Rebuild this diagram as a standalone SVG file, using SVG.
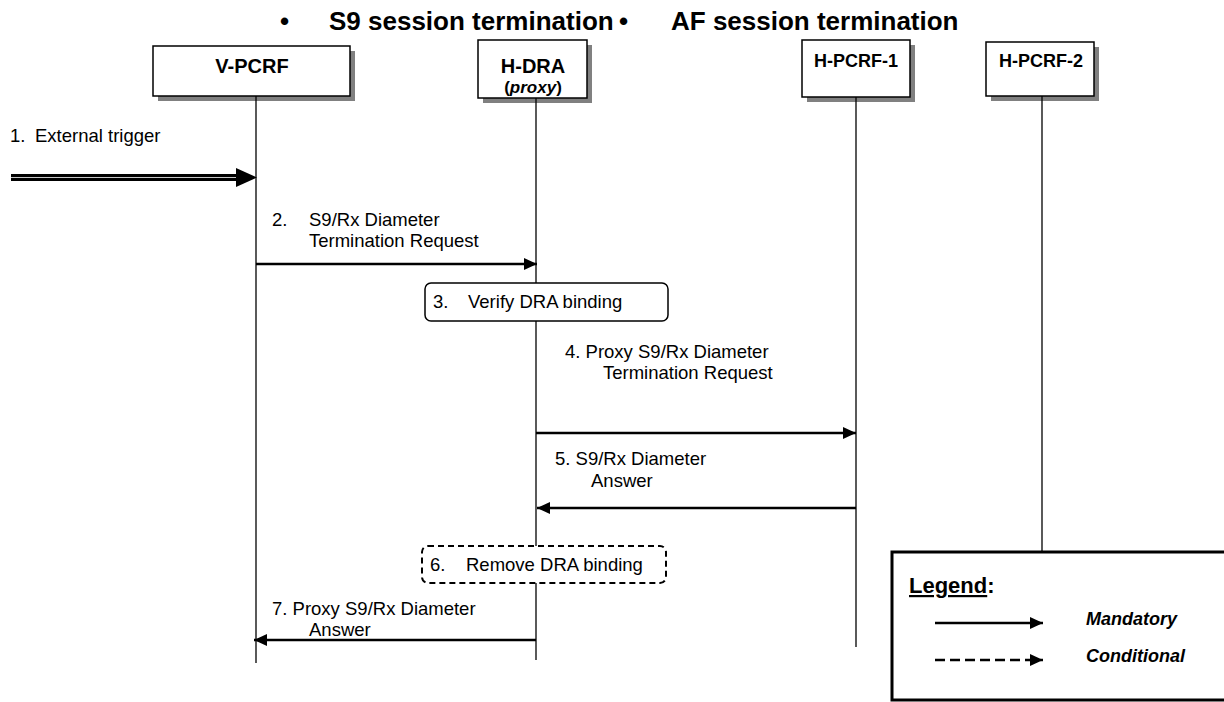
<svg xmlns="http://www.w3.org/2000/svg" width="1224" height="702" viewBox="0 0 1224 702">
<defs>
<style>
text{font-family:"Liberation Sans",Arial,sans-serif;fill:#000}
.title{font-size:26px;font-weight:bold}
.lbl{font-weight:bold}
.msg{font-size:18.5px}
.box{fill:#fff;stroke:#000;stroke-width:1.5}
.shadow{fill:#808080}
.life{stroke:#000;stroke-width:1.3;fill:none}
.arr{stroke:#000;stroke-width:2.5;fill:none}
.leg{font-size:18px;font-weight:bold;font-style:italic}
</style>
<marker id="ah" markerWidth="13" markerHeight="12" refX="13" refY="6" orient="auto" markerUnits="userSpaceOnUse">
<path d="M0,0 L13,6 L0,12 Z" fill="#000"/>
</marker>
</defs>
<rect width="1224" height="702" fill="#fff"/>
<g id="title">
<text class="title" x="280" y="30">•</text>
<text class="title" x="329" y="30">S9 session termination</text>
<text class="title" x="619" y="30">•</text>
<text class="title" x="671" y="30">AF session termination</text>
</g>
<g id="v-pcrf">
<rect class="shadow" x="158" y="51" width="197" height="50"/>
<rect class="box" x="153" y="46" width="197" height="50"/>
<text class="lbl" x="252" y="73" font-size="20" text-anchor="middle">V-PCRF</text>
<line class="life" x1="256" y1="96" x2="256" y2="663"/>
</g>
<g id="h-dra">
<rect class="shadow" x="483" y="45" width="109" height="58"/>
<rect class="box" x="478" y="40" width="109" height="58"/>
<text class="lbl" x="533" y="73" font-size="20" text-anchor="middle">H-DRA</text>
<text class="lbl" x="533" y="93" font-size="17" text-anchor="middle">(<tspan font-style="italic">proxy</tspan>)</text>
<line class="life" x1="536" y1="98" x2="536" y2="660"/>
</g>
<g id="h-pcrf-1">
<rect class="shadow" x="807" y="45" width="108" height="57"/>
<rect class="box" x="802" y="40" width="108" height="57"/>
<text class="lbl" x="856" y="67" font-size="18" text-anchor="middle">H-PCRF-1</text>
<line class="life" x1="856" y1="97" x2="856" y2="647"/>
</g>
<g id="h-pcrf-2">
<rect class="shadow" x="991" y="47" width="108" height="54"/>
<rect class="box" x="986" y="42" width="108" height="54"/>
<text class="lbl" x="1041" y="67" font-size="18" text-anchor="middle">H-PCRF-2</text>
<line class="life" x1="1042" y1="96" x2="1042" y2="552"/>
</g>
<g id="step3">
<rect x="425" y="283" width="243" height="38" rx="6" fill="#fff" stroke="#000" stroke-width="1.5"/>
<text class="msg" x="433" y="308">3.</text>
<text class="msg" x="468" y="308">Verify DRA binding</text>
</g>
<g id="step6">
<rect x="422" y="546" width="244" height="37" rx="6" fill="#fff" stroke="#000" stroke-width="2" stroke-dasharray="6,4"/>
<text class="msg" x="430" y="571">6.</text>
<text class="msg" x="466" y="571">Remove DRA binding</text>
</g>
<g id="connectors">
<line x1="11" y1="177.5" x2="237" y2="177.5" stroke="#000" stroke-width="7"/>
<line x1="11" y1="177.5" x2="237" y2="177.5" stroke="#c8c8c8" stroke-width="1.2"/>
<path d="M236,168 L257,177.5 L236,187 Z" fill="#000"/>
<line class="arr" x1="256" y1="264" x2="537" y2="264" marker-end="url(#ah)"/>
<line class="arr" x1="536" y1="433" x2="856" y2="433" marker-end="url(#ah)"/>
<line class="arr" x1="856" y1="508" x2="537" y2="508" marker-end="url(#ah)"/>
<line class="arr" x1="536" y1="640" x2="254" y2="640" marker-end="url(#ah)"/>
</g>
<g id="labels">
<text class="msg" x="10" y="142">1.</text>
<text class="msg" x="35" y="142">External trigger</text>
<text class="msg" x="272" y="226">2.</text>
<text class="msg" x="309" y="226">S9/Rx Diameter</text>
<text class="msg" x="309" y="247">Termination Request</text>
<text class="msg" x="565" y="358">4. Proxy S9/Rx Diameter</text>
<text class="msg" x="603" y="379">Termination Request</text>
<text class="msg" x="555" y="465">5. S9/Rx Diameter</text>
<text class="msg" x="591" y="487">Answer</text>
<text class="msg" x="272" y="615">7. Proxy S9/Rx Diameter</text>
<text class="msg" x="309" y="636">Answer</text>
</g>
<g id="legend">
<rect x="892" y="552" width="340" height="148" fill="#fff" stroke="#000" stroke-width="3"/>
<text x="909" y="593" font-size="22" font-weight="bold"><tspan text-decoration="underline">Legend</tspan>:</text>
<line class="arr" x1="935" y1="623" x2="1043" y2="623" stroke-width="3" marker-end="url(#ah)"/>
<line class="arr" x1="935" y1="660" x2="1043" y2="660" stroke-width="3" stroke-dasharray="10,5" marker-end="url(#ah)"/>
<text class="leg" x="1086" y="625">Mandatory</text>
<text class="leg" x="1086" y="662">Conditional</text>
</g>
</svg>
